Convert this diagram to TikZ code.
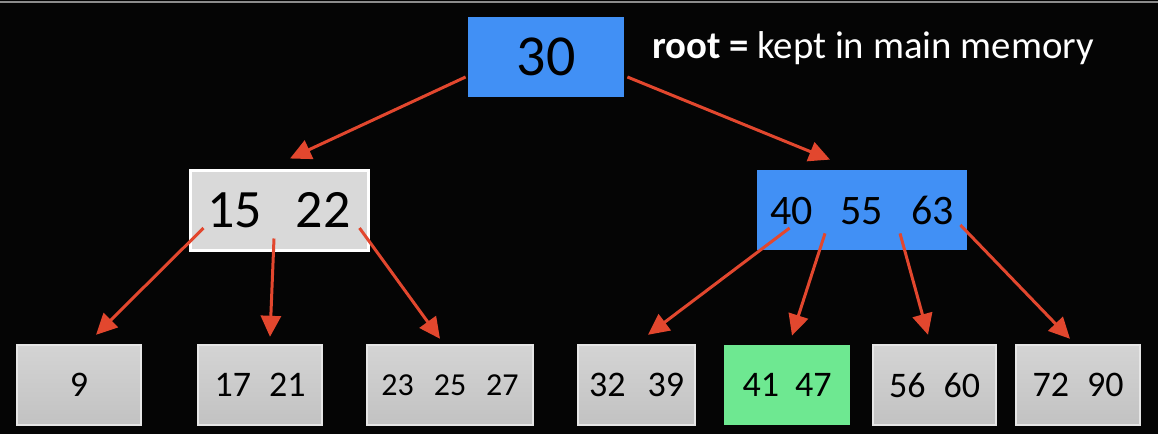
\documentclass[tikz,border=0pt]{standalone}
\usepackage{fontspec}
\setmainfont{Carlito}
\usetikzlibrary{arrows.meta,calc}
\definecolor{bg}{HTML}{050505}
\definecolor{keyblue}{HTML}{4190F5}
\definecolor{keygreen}{HTML}{6EE891}
\definecolor{edgered}{HTML}{E2472E}
\definecolor{leaftop}{HTML}{D4D4D4}
\definecolor{leafbot}{HTML}{C2C2C2}
\definecolor{leafrim}{HTML}{E6E6E6}
\tikzset{
  keybox/.style={inner sep=0pt, minimum height=40pt, text=black},
  bluebox/.style={keybox, fill=keyblue},
  graybox/.style={keybox, fill=black!15, draw=white, line width=1.5pt},
  leafbox/.style={keybox, top color=leaftop, bottom color=leafbot, draw=leafrim, line width=1.2pt},
  greenbox/.style={keybox, fill=keygreen},
  leaftext/.style={font=\fontsize{18}{22}\selectfont},
  link/.style={draw=edgered, line width=1.5pt, -{Triangle[length=10.5pt,width=10pt]}},
}
\begin{document}
\begin{tikzpicture}[x=0.5pt, y=-0.5pt]
  \useasboundingbox[fill=bg] (0,0) rectangle (1158,434);
  \draw[black!45, line width=0.6pt] (0,2) -- (1158,2);

  % root
  \node[bluebox, minimum width=78pt, font=\fontsize{29}{32}\selectfont] (root) at (546,57) {30};
  \node[anchor=west, text=white, font=\fontsize{19.4}{23}\selectfont] (note) at (645,48)
    {\textbf{root =} kept in main memory};

  % internal level
  \node[graybox, minimum width=89pt, font=\fontsize{27}{30}\selectfont] (L) at (279,210)
    {15\hspace{17pt}22};
  \node[bluebox, minimum width=105pt, font=\fontsize{21}{25}\selectfont] (R) at (862,210)
    {40\hspace{14pt}55\hspace{14pt}63};

  % leaves
  \node[leafbox, minimum width=62pt, leaftext] (a) at (79,385) {9};
  \node[leafbox, minimum width=62pt, leaftext] (b) at (260,385) {17\hspace{9pt}21};
  \node[leafbox, minimum width=83pt, font=\fontsize{16}{19}\selectfont] (c) at (450,385) {23\hspace{10pt}25\hspace{10pt}27};
  \node[leafbox, minimum width=58.5pt, leaftext] (d) at (636.5,385) {32\hspace{11pt}39};
  \node[greenbox, minimum width=63pt, leaftext] (e) at (787,385) {41\hspace{8pt}47};
  \node[leafbox, minimum width=61.5pt, leaftext] (f) at (934.5,385) {56\hspace{9pt}60};
  \node[leafbox, minimum width=62pt, leaftext] (g) at (1078,385) {72\hspace{9pt}90};

  % pointers
  \draw[link] ($(root.west)+(-2,20)$) -- ($(L.north)+(11,-10)$);
  \draw[link] ($(root.east)+(3,20)$) -- ($(R.north)+(-32,-10)$);
  \draw[link] ($(L.west)+(15,18)$) -- ($(a.north)+(17,-9)$);
  \draw[link] ($(L.south)+(-5,-13)$) -- ($(b.north)+(10,-7)$);
  \draw[link] ($(L.east)+(-10,18)$) -- ($(c.north)+(-10,-5)$);
  \draw[link] ($(R.west)+(33,18)$) -- ($(d.north)+(11.5,-9)$);
  \draw[link] ($(R.south)+(-37,-17)$) -- ($(e.north)+(5,-9)$);
  \draw[link] ($(R.south)+(38,-17)$) -- ($(f.north)+(-6.5,-9)$);
  \draw[link] ($(R.east)+(-7,15)$) -- ($(g.north)+(-8,-5)$);
\end{tikzpicture}
\end{document}
